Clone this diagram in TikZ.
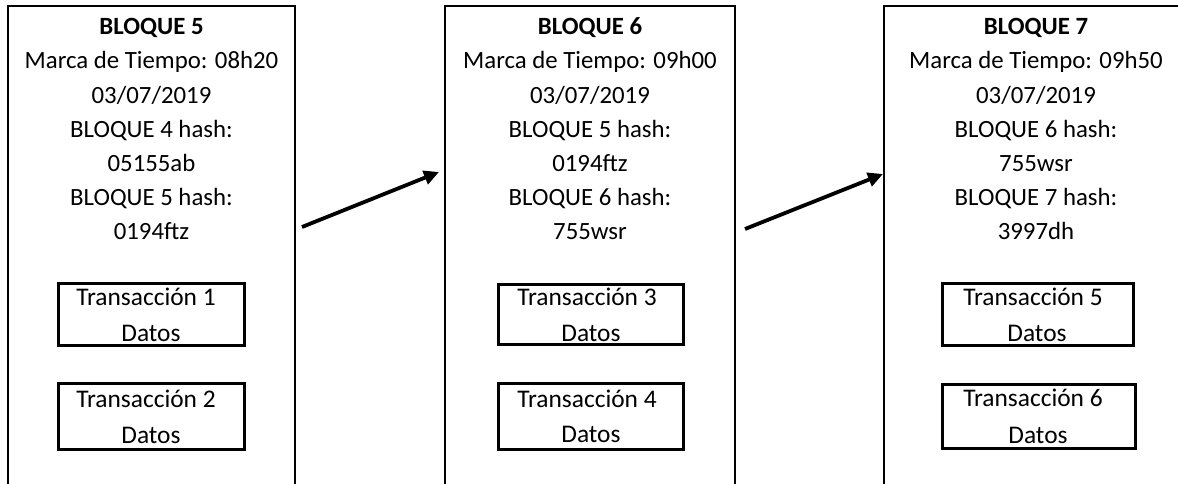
\documentclass[tikz,border=0pt]{standalone}
\usepackage{fontspec}
\setmainfont{Carlito}
\usetikzlibrary{arrows.meta}
\begin{document}
\begin{tikzpicture}[x=1pt,y=-1pt,
  blockedge/.style={line width=2pt},
  txbox/.style={draw,line width=3pt,inner sep=0pt,outer sep=0pt},
  txt/.style={anchor=base,inner sep=0pt,font=\fontsize{24.8}{30}\selectfont},
  tx/.style={anchor=base,inner sep=0pt,font=\fontsize{25.4}{30}\selectfont},
  head/.style={anchor=base,inner sep=0pt,font=\fontsize{24.8}{30}\selectfont\bfseries},
  link/.style={line width=3.8pt,-{Triangle[length=15pt,width=14pt]}}]
\useasboundingbox (0,0) rectangle (1178,483);
\clip (0,0) rectangle (1178,483);

% block outlines (open at the bottom)
\draw[blockedge] (8,500) -- (8,6) -- (295,6) -- (295,500);
\draw[blockedge] (445,500) -- (445,6) -- (735,6) -- (735,500);
\draw[blockedge] (884,500) -- (884,6) -- (1200,6) -- (1200,500);

% block 5
\node[head] (b5t) at (151.5,34) {BLOQUE 5};
\node[txt] (b5a) at (151.5,68.5) {Marca de Tiempo: 08h20};
\node[txt] (b5b) at (151.5,103) {03/07/2019};
\node[txt] (b5c) at (151.5,137) {BLOQUE 4 hash:};
\node[txt] (b5d) at (151.5,171) {05155ab};
\node[txt] (b5e) at (151.5,205) {BLOQUE 5 hash:};
\node[txt] (b5f) at (151.5,239) {0194ftz};
\node[txbox,minimum width=186pt,minimum height=62pt] (t1) at (151.5,314.5) {};
\node[tx] (t1a) at (146,305) {Transacción 1};
\node[tx] (t1b) at (151,341) {Datos};
\node[txbox,minimum width=186pt,minimum height=66pt] (t2) at (151.5,416.5) {};
\node[tx] (t2a) at (146,407) {Transacción 2};
\node[tx] (t2b) at (151,443) {Datos};

% block 6
\node[head] (b6t) at (590,34) {BLOQUE 6};
\node[txt] (b6a) at (590,68.5) {Marca de Tiempo: 09h00};
\node[txt] (b6b) at (590,103) {03/07/2019};
\node[txt] (b6c) at (590,137) {BLOQUE 5 hash:};
\node[txt] (b6d) at (590,171) {0194ftz};
\node[txt] (b6e) at (590,205) {BLOQUE 6 hash:};
\node[txt] (b6f) at (590,239) {755wsr};
\node[txbox,minimum width=185pt,minimum height=60pt] (t3) at (591,314.5) {};
\node[tx] (t3a) at (587,305) {Transacción 3};
\node[tx] (t3b) at (591,341) {Datos};
\node[txbox,minimum width=185pt,minimum height=66pt] (t4) at (591,416.5) {};
\node[tx] (t4a) at (587,407) {Transacción 4};
\node[tx] (t4b) at (591,442) {Datos};

% block 7
\node[head] (b7t) at (1036,34) {BLOQUE 7};
\node[txt] (b7a) at (1036,68.5) {Marca de Tiempo: 09h50};
\node[txt] (b7b) at (1036,103) {03/07/2019};
\node[txt] (b7c) at (1036,137) {BLOQUE 6 hash:};
\node[txt] (b7d) at (1036,171) {755wsr};
\node[txt] (b7e) at (1036,205) {BLOQUE 7 hash:};
\node[txt] (b7f) at (1036,239) {3997dh};
\node[txbox,minimum width=191pt,minimum height=62pt] (t5) at (1038,314.5) {};
\node[tx] (t5a) at (1033,305) {Transacción 5};
\node[tx] (t5b) at (1037,341) {Datos};
\node[txbox,minimum width=193pt,minimum height=64pt] (t6) at (1039,416.5) {};
\node[tx] (t6a) at (1033,406) {Transacción 6};
\node[tx] (t6b) at (1038,443) {Datos};

% chain links
\coordinate (l1s) at (302,227);
\coordinate (l1e) at (439,172);
\coordinate (l2s) at (745,229);
\coordinate (l2e) at (883,174);
\draw[link] (l1s) -- (l1e);
\draw[link] (l2s) -- (l2e);
\end{tikzpicture}
\end{document}
